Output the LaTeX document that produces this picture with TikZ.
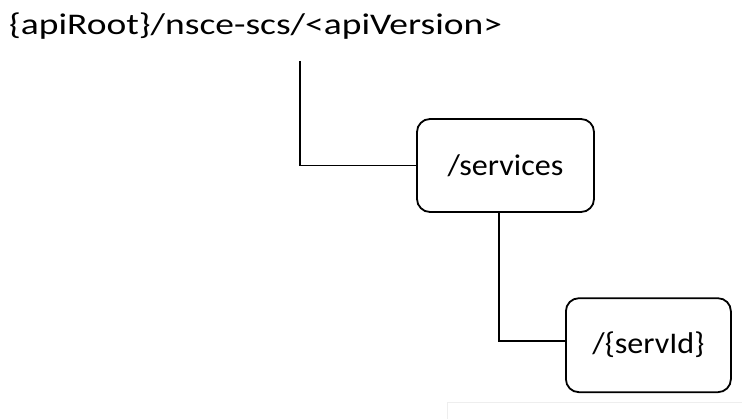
\documentclass[tikz,border=0pt]{standalone}
\usepackage{fontspec}
\setmainfont{Carlito}
\newfontfamily\roottextfont[FakeStretch=1.25]{Carlito}
\newfontfamily\restextfont[FakeStretch=1.07]{Carlito}
\usepackage{tikz}
\usetikzlibrary{positioning, calc}
\definecolor{faintgray}{RGB}{238,238,238}
\tikzset{
    % resource box, rounded with a thin black frame
    resbox/.style={draw, line width=1.8pt, rounded corners=13pt, inner sep=4pt,
                   font=\restextfont\fontsize{30}{36}\selectfont},
    % tree connector (plain elbow line, no tip)
    link/.style={line width=1.8pt},
    % root uri text
    rooturi/.style={font=\roottextfont\fontsize{30}{36}\selectfont, inner sep=0pt},
}

\begin{document}
\begin{tikzpicture}[x=1pt, y=1pt]
    \useasboundingbox (0,0) rectangle (742,-419);

    % ---- root uri ----
    \node[rooturi, anchor=base west] (root) at (9,-34.5)
        {\{apiRoot\}/nsce-scs/<apiVersion>};
    \coordinate (rootstem) at (300,-61);

    % ---- resources ----
    \node[resbox, minimum width=177pt, minimum height=93pt] (svc) at (505.5,-165.5)
        {/services};
    \node[resbox, minimum width=165pt, minimum height=94pt] (sid) at (648.4,-345.2)
        {/\{servId\}};

    % elbow connectors
    \draw[link] (rootstem) |- (svc.west);
    \draw[link] ([xshift=-6.5pt]svc.south) |- ([yshift=4.5pt]sid.west);

    % faint frame at the lower right edge
    \draw[faintgray, line width=1pt] (447.3,-419) |- (742,-402.7);

\end{tikzpicture}
\end{document}
